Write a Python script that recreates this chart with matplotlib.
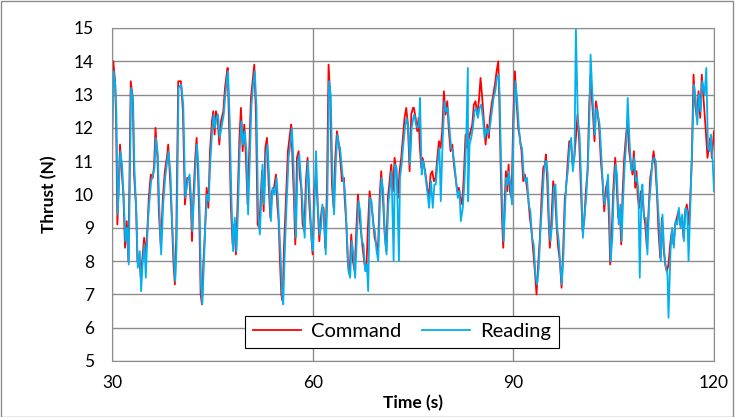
import numpy as np
import matplotlib.pyplot as plt
from matplotlib.patches import Rectangle

# thrust command vs load cell reading
time_cmd = [30.0, 30.2, 30.45, 30.6, 30.8, 31.2, 31.45, 31.7, 31.95, 32.2, 32.45, 32.8, 33.1, 33.3, 33.6,
            33.8, 34.1, 34.3, 34.55, 34.8, 35.0, 35.3, 35.5, 35.8, 36.1, 36.3, 36.5, 36.8, 37.0, 37.3,
            37.6, 37.9, 38.2, 38.4, 38.7, 38.9, 39.2, 39.4, 39.6, 39.9, 40.3, 40.6, 40.9, 41.25,
            41.56, 41.81, 41.96, 42.16, 42.45, 42.65, 42.85, 43.05, 43.25, 43.45, 43.65, 43.9, 44.15, 44.4,
            44.65, 44.94, 45.14, 45.34, 45.54, 45.79, 46.04, 46.29, 46.64, 46.89, 47.14, 47.29, 47.53, 47.78,
            48.03, 48.28, 48.53, 48.78, 49.03, 49.28, 49.53, 49.77, 50.02, 50.27, 50.52, 50.77, 51.02, 51.27,
            51.52, 51.77, 52.02, 52.27, 52.42,
            52.67, 52.92, 53.17, 53.42, 53.67, 53.91, 54.21, 54.51, 54.71, 54.91, 55.11, 55.31, 55.51, 55.71,
            56.01, 56.3, 56.6, 56.8, 57.0, 57.2, 57.4, 57.65, 57.9, 58.1, 58.3, 58.5, 58.74, 58.99, 59.24,
            59.49, 59.79, 59.99, 60.24, 60.49, 60.69, 60.99, 61.18, 61.38, 61.63, 61.88, 62.13, 62.38, 62.63,
            62.88, 63.13, 63.38, 63.63, 63.85,
            64.03, 64.38, 64.68, 64.78, 65.03, 65.27, 65.52, 65.77, 66.02, 66.27, 66.52, 66.77, 67.02, 67.27,
            67.52, 67.76, 68.01, 68.26, 68.51, 68.76, 69.01, 69.26, 69.51, 69.76, 70.01, 70.25, 70.5, 70.75,
            71.0, 71.25, 71.5, 71.75, 72.0, 72.25, 72.5, 72.74, 72.99, 73.24, 73.49, 73.74, 73.99, 74.24,
            74.49, 74.74, 74.99,
            75.14, 75.39, 75.64, 75.84, 76.04, 76.24, 76.43, 76.63, 76.88, 77.13, 77.38, 77.63, 77.88, 78.13,
            78.38, 78.63, 78.88, 79.12, 79.37, 79.62, 79.87, 80.12, 80.37, 80.62, 80.87, 81.12, 81.37, 81.61,
            81.86, 82.11, 82.36, 82.61, 82.86, 83.11, 83.36, 83.61, 83.86, 84.1, 84.35, 84.6, 84.85, 85.1,
            85.35, 85.6, 85.85, 86.1, 86.35,
            86.5, 86.75, 87.0, 87.25, 87.5, 87.75, 87.9, 88.1, 88.29, 88.49, 88.69, 88.89, 89.09, 89.29,
            89.49, 89.74, 89.99, 90.24, 90.48, 90.73, 90.98, 91.23, 91.48, 91.73, 91.98, 92.23, 92.48, 92.73,
            92.97, 93.22, 93.47, 93.72, 93.97, 94.22, 94.47, 94.72, 94.87, 95.07, 95.26, 95.46, 95.71, 95.96,
            96.21, 96.46, 96.71, 96.96, 97.21, 97.46, 97.7,
            97.86, 98.11, 98.36, 98.61, 98.86, 99.1, 99.35, 99.6, 99.85, 100.1, 100.35, 100.6, 100.85, 101.1,
            101.35, 101.55, 101.74, 101.94, 102.14, 102.34, 102.59, 102.84, 103.09, 103.34, 103.59, 103.84,
            104.09, 104.33, 104.48, 104.73, 104.93, 105.23, 105.43, 105.68, 105.93, 106.13, 106.33, 106.58,
            106.82, 107.07, 107.32, 107.57, 107.82, 108.02, 108.22, 108.42, 108.62, 108.82, 109.07,
            109.22, 109.47, 109.72, 109.97, 110.22, 110.47, 110.71, 110.96, 111.21, 111.46, 111.71, 111.96,
            112.21, 112.46, 112.71, 112.96, 113.2, 113.45, 113.7, 113.95, 114.2, 114.45, 114.7, 114.95,
            115.2, 115.45, 115.69, 115.94, 116.19, 116.44, 116.69, 116.94, 117.19, 117.44, 117.69, 117.94,
            118.18, 118.43, 118.78, 119.03, 119.28, 119.48, 119.68, 120.0]

thrust_cmd = [11.8, 14.0, 13.4, 12.4, 9.1, 11.5, 10.7, 10.0, 8.4, 9.2, 8.0, 13.4, 12.9, 10.6, 9.6,
              8.0, 8.1, 7.5, 8.1, 8.7, 8.1, 9.0, 9.9, 10.6, 10.5, 10.9, 12.0, 11.1, 9.5, 8.4,
              9.9, 10.7, 11.1, 11.5, 10.4, 9.5, 7.9, 7.3, 8.7, 13.4, 13.4, 12.5, 9.7, 10.5,
              10.5, 9.6, 8.6, 9.9, 11.1, 11.7, 10.7, 9.3, 7.0, 6.7, 7.9, 8.9, 10.2, 9.6,
              11.3, 12.2, 12.5, 11.8, 12.5, 12.3, 11.5, 12.2, 12.5, 13.2, 13.6, 13.8, 11.9, 9.6,
              8.5, 9.1, 8.2, 9.8, 11.6, 12.6, 11.3, 12.1, 11.1, 9.7, 11.3, 12.9, 13.4, 13.9,
              12.4, 9.1, 9.0, 10.1, 10.7,
              9.5, 11.4, 11.7, 10.3, 9.3, 10.1, 10.2, 10.6, 9.7, 9.2, 8.0, 7.0, 6.8, 8.4,
              9.9, 11.3, 11.8, 12.1, 10.9, 9.9, 8.5, 11.1, 11.3, 10.5, 10.2, 9.1, 8.9, 10.4, 11.1,
              9.7, 8.8, 8.2, 10.1, 10.6, 9.9, 8.6, 9.2, 9.6, 9.6, 8.4, 10.1, 13.9, 12.9,
              10.3, 9.6, 11.1, 11.9, 11.6,
              11.3, 10.4, 10.5, 9.9, 9.1, 7.9, 7.6, 8.8, 8.0, 7.7, 8.9, 10.0, 9.3, 8.8,
              8.3, 7.9, 7.7, 9.0, 10.1, 9.7, 9.3, 8.7, 8.5, 8.3, 9.9, 10.7, 9.9, 8.9,
              8.3, 9.9, 10.4, 10.9, 10.1, 11.1, 10.7, 9.9, 10.7, 11.1, 11.7, 12.3, 12.6, 12.1,
              10.7, 12.4, 12.6,
              12.6, 12.3, 11.9, 12.3, 11.4, 10.8, 11.1, 10.9, 10.6, 10.2, 9.9, 10.6, 10.7, 10.4,
              10.5, 11.1, 11.6, 11.4, 11.9, 13.1, 12.4, 12.8, 11.9, 11.3, 11.5, 10.9, 10.5, 10.1,
              10.2, 9.9, 9.7, 10.6, 11.8, 11.4, 11.7, 11.9, 12.1, 12.7, 12.8, 12.4, 12.8, 13.5,
              12.9, 12.2, 11.5, 12.1, 11.7,
              12.3, 12.7, 13.0, 13.3, 13.7, 14.0, 12.9, 10.9, 9.4, 8.4, 9.7, 10.7, 10.1, 10.9,
              10.1, 9.9, 12.3, 13.7, 12.8, 12.0, 11.7, 11.3, 10.4, 10.6, 10.3, 9.9, 9.3, 8.9,
              8.3, 7.7, 7.0, 7.9, 8.7, 9.9, 10.8, 10.9, 11.2, 10.4, 9.3, 8.4, 9.3, 10.4,
              10.1, 9.1, 8.4, 8.0, 7.2, 8.4, 9.9,
              10.1, 10.9, 11.6, 11.6, 10.9, 11.1, 11.7, 12.4, 11.6, 10.2, 8.9, 9.2, 10.1, 10.7,
              12.7, 13.6, 12.9, 12.3, 11.6, 12.8, 12.5, 12.0, 11.0, 10.4, 9.5, 10.2,
              10.4, 9.1, 7.9, 8.9, 10.1, 11.1, 10.4, 9.3, 9.5, 8.5, 10.0, 11.1,
              11.7, 12.2, 11.3, 10.9, 10.6, 11.3, 10.2, 10.7, 9.9, 9.6, 10.1,
              10.1, 9.5, 9.1, 8.4, 9.5, 10.5, 10.8, 11.3, 10.9, 10.1, 8.9, 8.1,
              9.3, 8.4, 7.9, 7.7, 7.9, 8.5, 8.9, 8.5, 9.1, 9.3, 9.5, 9.1,
              9.3, 8.7, 9.5, 9.7, 9.1, 9.8, 11.1, 13.6, 12.7, 12.3, 13.1, 12.3,
              13.6, 12.9, 11.9, 11.1, 11.5, 11.7, 11.1, 11.9]

time_read = [30.0, 30.25, 30.5, 30.65, 30.85, 31.25, 31.5, 31.75, 32.0, 32.25, 32.5, 32.85, 33.15, 33.35, 33.65,
             33.85, 34.15, 34.35, 34.6, 34.85, 35.05, 35.35, 35.55, 35.85, 36.15, 36.35, 36.55, 36.85, 37.05, 37.35,
             37.65, 37.95, 38.25, 38.45, 38.75, 38.95, 39.25, 39.45, 39.65, 39.95, 40.35, 40.65, 40.95, 41.3,
             41.6, 41.85, 42.0, 42.2, 42.5, 42.7, 42.9, 43.1, 43.3, 43.5, 43.7, 43.95, 44.2, 44.45,
             44.7, 45.0, 45.2, 45.4, 45.6, 45.85, 46.1, 46.35, 46.7, 46.95, 47.2, 47.35, 47.6, 47.85,
             48.1, 48.35, 48.6, 48.85, 49.1, 49.35, 49.6, 49.85, 50.1, 50.35, 50.6, 50.85, 51.1, 51.35,
             51.6, 51.85, 52.1, 52.35, 52.5,
             52.75, 53.0, 53.25, 53.5, 53.75, 54.0, 54.3, 54.6, 54.8, 55.0, 55.2, 55.4, 55.6, 55.8,
             56.1, 56.4, 56.7, 56.9, 57.1, 57.3, 57.5, 57.75, 58.0, 58.2, 58.4, 58.6, 58.8, 59.05, 59.3,
             59.55, 59.85, 60.05, 60.3, 60.5, 60.75, 61.05, 61.25, 61.45, 61.7, 61.95, 62.2, 62.45, 62.7,
             62.95, 63.2, 63.45, 63.7, 63.9,
             64.1, 64.45, 64.7, 64.85, 65.1, 65.35, 65.6, 65.85, 66.1, 66.35, 66.6, 66.85, 67.1, 67.35,
             67.6, 67.85, 68.1, 68.3, 68.55, 68.8, 69.05, 69.3, 69.55, 69.8, 70.05, 70.3, 70.55, 70.8,
             71.05, 71.3, 71.55, 71.8, 72.1, 72.3, 72.55, 72.9, 73.05, 73.3, 73.55, 73.8, 74.05, 74.3,
             74.55, 74.8, 75.05,
             75.2, 75.45, 75.7, 75.9, 76.05, 76.3, 76.5, 76.7, 76.95, 77.2, 77.4, 77.7, 77.95, 78.2,
             78.4, 78.7, 78.95, 79.15, 79.45, 79.7, 79.95, 80.2, 80.45, 80.7, 80.95, 81.2, 81.45, 81.7,
             81.95, 82.15, 82.45, 82.7, 82.95, 83.2, 83.25, 83.45, 83.7, 83.95, 84.2, 84.45, 84.7, 84.95,
             85.2, 85.45, 85.7, 85.95, 86.2,
             86.55, 86.8, 87.05, 87.3, 87.55, 87.8, 87.95, 88.15, 88.35, 88.55, 88.75, 88.95, 89.15, 89.35,
             89.55, 89.8, 90.05, 90.3, 90.55, 90.8, 91.05, 91.3, 91.55, 91.8, 92.05, 92.3, 92.55, 92.8,
             93.05, 93.3, 93.55, 93.8, 94.05, 94.3, 94.55, 94.8, 94.95, 95.15, 95.35, 95.55, 95.8, 96.05,
             96.3, 96.55, 96.8, 97.05, 97.25, 97.5, 97.75,
             97.9, 98.15, 98.4, 98.65, 98.9, 99.15, 99.35, 99.65, 99.9, 100.15, 100.4, 100.65, 100.9, 101.15,
             101.4, 101.55, 101.8, 102.0, 102.2, 102.4, 102.65, 102.9, 103.15, 103.4, 103.65, 103.9,
             104.15, 104.4, 104.55, 104.8, 105.0, 105.3, 105.5, 105.75, 106.0, 106.2, 106.4, 106.65,
             106.9, 107.1, 107.4, 107.65, 107.9, 108.1, 108.3, 108.5, 108.7, 108.9, 109.15,
             109.3, 109.55, 109.8, 110.05, 110.3, 110.55, 110.8, 111.05, 111.3, 111.55, 111.8, 112.05,
             112.3, 112.55, 112.8, 113.05, 113.2, 113.5, 113.75, 114.0, 114.25, 114.5, 114.75, 115.0,
             115.25, 115.5, 115.75, 116.0, 116.2, 116.5, 116.75, 117.0, 117.25, 117.5, 117.75, 118.0,
             118.25, 118.6, 118.85, 119.1, 119.35, 119.55, 119.8, 120.0]

thrust_read = [11.2, 13.7, 13.3, 12.5, 9.4, 11.3, 10.9, 9.9, 8.6, 9.0, 7.9, 13.2, 12.8, 10.8, 9.4,
               7.8, 8.3, 7.1, 8.0, 8.5, 7.5, 9.1, 9.7, 10.4, 10.6, 10.8, 11.7, 11.2, 9.7, 8.2,
               9.7, 10.5, 11.0, 11.3, 10.6, 9.3, 8.1, 7.4, 8.4, 13.2, 13.3, 12.7, 9.9, 10.4,
               10.6, 9.8, 8.9, 9.7, 10.9, 11.5, 10.9, 9.5, 7.3, 6.7, 7.7, 9.1, 10.0, 9.8,
               11.0, 12.0, 12.4, 12.0, 12.3, 12.4, 11.7, 12.0, 12.4, 13.0, 13.5, 13.7, 12.2, 9.9,
               8.3, 9.3, 8.3, 9.6, 11.4, 12.2, 11.5, 11.9, 11.3, 9.4, 11.1, 12.7, 13.3, 13.7,
               12.6, 9.4, 8.8, 10.0, 10.9,
               9.7, 11.2, 11.5, 10.5, 9.2, 10.2, 10.0, 10.5, 9.9, 9.0, 8.2, 7.1, 6.7, 8.1,
               9.7, 11.1, 11.6, 12.0, 11.1, 9.7, 8.7, 10.9, 11.2, 10.6, 10.0, 9.3, 8.7, 10.2, 11.0,
               9.9, 8.6, 8.3, 9.9, 11.3, 9.7, 8.8, 9.0, 9.7, 9.4, 8.2, 9.9, 13.4, 13.0,
               10.6, 9.4, 10.9, 11.8, 11.5,
               11.4, 10.6, 10.3, 10.0, 8.9, 7.7, 7.5, 8.6, 8.2, 7.5, 8.7, 9.8, 9.5, 8.6,
               8.5, 7.7, 7.9, 7.1, 9.9, 9.8, 9.1, 8.9, 8.3, 8.0, 9.7, 10.5, 10.1, 8.7,
               8.2, 9.7, 10.2, 10.7, 8.0, 10.9, 10.8, 8.0, 10.5, 10.9, 11.5, 12.0, 12.3, 12.0,
               10.9, 12.0, 12.3,
               12.4, 12.1, 12.0, 12.1, 12.9, 10.6, 11.0, 10.8, 10.4, 10.0, 9.6, 10.4, 9.6, 10.3,
               10.3, 11.0, 11.4, 9.8, 11.7, 12.8, 12.5, 12.6, 12.0, 11.4, 11.3, 10.9, 10.4, 9.9,
               10.1, 9.2, 9.6, 10.4, 11.6, 13.8, 9.8, 11.5, 11.7, 12.0, 12.5, 12.6, 12.3, 12.6,
               12.7, 12.3, 11.7, 12.0, 11.8,
               12.1, 12.5, 12.9, 13.1, 13.5, 13.6, 13.0, 11.1, 9.6, 8.6, 9.5, 10.5, 10.3, 10.7,
               10.3, 9.7, 12.1, 13.4, 12.9, 12.1, 11.5, 11.4, 10.6, 10.4, 10.5, 9.7, 9.5, 8.7,
               8.5, 7.6, 7.3, 7.8, 8.9, 9.7, 10.6, 11.0, 11.0, 10.6, 9.1, 8.6, 9.1, 10.2,
               10.3, 9.0, 8.6, 7.8, 7.3, 8.2, 9.7,
               10.3, 10.7, 11.4, 11.7, 10.7, 11.2, 15.0, 12.2, 11.8, 10.4, 8.7, 9.4, 9.9, 10.9,
               12.5, 14.2, 13.1, 12.4, 11.8, 12.6, 12.4, 12.1, 11.2, 10.2, 9.7, 10.0,
               10.6, 9.3, 8.0, 8.7, 10.0, 10.9, 10.6, 9.1, 9.7, 8.6, 9.8, 10.9,
               11.6, 12.9, 11.5, 10.7, 10.8, 11.1, 10.4, 10.5, 10.1, 7.5, 10.0,
               10.3, 9.3, 9.3, 8.2, 9.7, 10.3, 11.0, 11.1, 11.0, 9.9, 9.1, 8.0,
               9.4, 8.3, 7.8, 7.6, 6.3, 8.3, 9.0, 8.4, 9.2, 9.1, 9.6, 9.0,
               9.4, 8.6, 9.6, 9.5, 8.0, 9.9, 11.5, 13.3, 12.9, 12.1, 13.0, 12.5,
               13.4, 13.0, 13.8, 11.4, 11.3, 11.8, 11.0, 10.1]

plt.rcParams['font.family'] = ['Lato', 'DejaVu Sans']

plt.figure(figsize=(7.35, 4.17), dpi=100)
fig = plt.gcf()
ax = fig.add_axes([0.1524, 0.1343, 0.8190, 0.7986])

ax.plot(time_cmd, thrust_cmd, color='#FF0000', lw=1.3, label='Command')
ax.plot(time_read, thrust_read, color='#00B0F0', lw=1.3, label='Reading')

ax.set_xlim(30, 120)
ax.set_ylim(5, 15)
ax.set_xticks([30, 60, 90, 120])
ax.set_yticks(range(5, 16))
ax.grid(True, color='#8c8c8c', lw=1.0)
ax.set_axisbelow(True)
ax.tick_params(length=0, labelsize=12.5)
ax.tick_params(axis='y', pad=13)
ax.tick_params(axis='x', pad=10)
for s in ax.spines.values():
    s.set_color('#8c8c8c')

ax.set_xlabel('Time (s)', fontsize=12.5, fontweight='bold', labelpad=3)
ax.set_ylabel('Thrust (N)', fontsize=12.5, fontweight='bold', labelpad=12)

leg = ax.legend(loc='lower center', bbox_to_anchor=(0.482, 0.039), borderaxespad=0, ncol=2,
                fontsize=14.5, fancybox=False, framealpha=1, edgecolor='black',
                handlelength=2.4, columnspacing=1.0, borderpad=0.38, handletextpad=0.5)
leg.get_frame().set_linewidth(0.8)

# outer chart border like the spreadsheet export
fig.patches.append(Rectangle((0.001, 0.001), 0.996, 0.996, transform=fig.transFigure,
                             fill=False, edgecolor='#8c8c8c', lw=1))

plt.savefig('out.png', dpi=100)
